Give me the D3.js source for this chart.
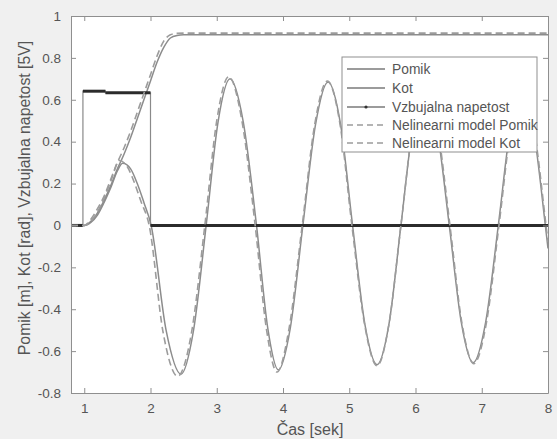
<!DOCTYPE html>
<html>
<head>
<meta charset="utf-8">
<script src="https://cdn.jsdelivr.net/npm/d3@7"></script>
<style>
  body { margin: 0; background: #f0f0f0; }
  svg { display: block; font-family: "Liberation Sans", Arial, sans-serif; }
</style>
</head>
<body>
<div id="chart"></div>
<script>
// values
var pomikT = [0.8, 1.0, 1.1, 1.2, 1.3, 1.4, 1.5, 1.6, 1.7, 1.8, 1.9, 2.0, 2.1, 2.2, 2.3, 2.4, 2.5, 8.0];
var pomikV = [0, 0, 0.02, 0.06, 0.12, 0.19, 0.27, 0.34, 0.42, 0.51, 0.60, 0.69, 0.78, 0.85, 0.895, 0.907, 0.91, 0.91];

var nlPomikT = [0.8, 1.0, 1.1, 1.2, 1.3, 1.4, 1.5, 1.6, 1.7, 1.8, 1.9, 2.0, 2.1, 2.2, 2.3, 2.4, 2.5, 8.0];
var nlPomikV = [0, 0, 0.03, 0.08, 0.14, 0.22, 0.30, 0.37, 0.45, 0.54, 0.63, 0.72, 0.81, 0.88, 0.91, 0.917, 0.918, 0.918];

var kotT = [0.8, 1.0, 1.1, 1.2, 1.3, 1.4, 1.5, 1.58, 1.7, 1.8, 1.9, 2.01, 2.235, 2.46, 2.65, 2.84,
  3.02, 3.20, 3.40, 3.60, 3.77, 3.93, 4.11, 4.30, 4.49, 4.68, 4.87, 5.05, 5.235, 5.42, 5.60, 5.78,
  5.96, 6.14, 6.32, 6.51, 6.69, 6.87, 7.06, 7.25, 7.43, 7.61, 7.78, 7.96, 8.0];
var kotV = [0, 0, 0.015, 0.05, 0.11, 0.18, 0.26, 0.297, 0.27, 0.20, 0.11, 0, -0.50, -0.71, -0.50, 0,
  0.495, 0.70, 0.495, 0, -0.49, -0.69, -0.49, 0, 0.48, 0.685, 0.48, 0, -0.47, -0.665, -0.47, 0,
  0.47, 0.665, 0.47, 0, -0.46, -0.655, -0.46, 0, 0.46, 0.655, 0.46, 0, -0.11];

var nlKotT = [0.8, 1.0, 1.1, 1.2, 1.3, 1.4, 1.53, 1.65, 1.75, 1.85, 1.98, 2.19, 2.41, 2.62, 2.82,
  3.0, 3.18, 3.38, 3.58, 3.75, 3.91, 4.09, 4.29, 4.48, 4.67, 4.86, 5.04, 5.23, 5.42, 5.60, 5.78,
  5.96, 6.14, 6.33, 6.52, 6.70, 6.88, 7.07, 7.26, 7.44, 7.62, 7.79, 7.97, 8.0];
var nlKotV = [0, 0, 0.02, 0.065, 0.13, 0.21, 0.31, 0.28, 0.21, 0.12, 0, -0.51, -0.72, -0.51, 0,
  0.50, 0.71, 0.50, 0, -0.495, -0.70, -0.495, 0, 0.485, 0.69, 0.485, 0, -0.47, -0.67, -0.47, 0,
  0.47, 0.665, 0.47, 0, -0.465, -0.66, -0.465, 0, 0.46, 0.655, 0.46, 0, -0.08];

var napetostT = [0.8, 0.98, 0.98, 1.32, 1.32, 2.0, 2.0, 8.0];
var napetostV = [0, 0, 0.641, 0.641, 0.633, 0.633, 0, 0];

var xTicks = [1, 2, 3, 4, 5, 6, 7, 8];
var yTicks = [-0.8, -0.6, -0.4, -0.2, 0, 0.2, 0.4, 0.6, 0.8, 1];
var legendLabels = ["Pomik", "Kot", "Vzbujalna napetost", "Nelinearni model Pomik", "Nelinearni model Kot"];

var width = 557, height = 439;
var plotL = 71, plotR = 548, plotT = 16, plotB = 393;

var svg = d3.select("#chart").append("svg")
    .attr("width", width)
    .attr("height", height);

svg.append("rect").attr("width", width).attr("height", height).attr("fill", "#f0f0f0");

var x = d3.scaleLinear().domain([0.8, 8]).range([plotL, plotR]);
var y = d3.scaleLinear().domain([-0.8, 1]).range([plotB, plotT]);

svg.append("rect")
    .attr("x", plotL).attr("y", plotT)
    .attr("width", plotR - plotL).attr("height", plotB - plotT)
    .attr("fill", "#fff");

function zip(ts, vs) {
    return ts.map(function(t, i) { return [t, vs[i]]; });
}

var smooth = d3.line()
    .x(function(d) { return x(d[0]); })
    .y(function(d) { return y(d[1]); })
    .curve(d3.curveMonotoneX);
var straight = d3.line()
    .x(function(d) { return x(d[0]); })
    .y(function(d) { return y(d[1]); });

svg.append("clipPath").attr("id", "clip")
    .append("rect").attr("x", plotL).attr("y", plotT).attr("width", plotR - plotL).attr("height", plotB - plotT);
var g = svg.append("g").attr("clip-path", "url(#clip)");

// solid responses
g.append("path").datum(zip(pomikT, pomikV))
    .attr("d", smooth).attr("fill", "none").attr("stroke", "#8c8c8c").attr("stroke-width", 1.5);
g.append("path").datum(zip(kotT, kotV))
    .attr("d", smooth).attr("fill", "none").attr("stroke", "#8c8c8c").attr("stroke-width", 1.5);

// excitation voltage: thin line, dense markers on the flat parts
var nap = zip(napetostT, napetostV);
g.append("path").datum(nap)
    .attr("d", straight).attr("fill", "none").attr("stroke", "#8a8a8a").attr("stroke-width", 1.2);
for (var i = 0; i < nap.length - 1; i++) {
    if (nap[i][1] === nap[i + 1][1] && nap[i][0] !== nap[i + 1][0]) {
        g.append("line")
            .attr("x1", x(nap[i][0])).attr("x2", x(nap[i + 1][0]))
            .attr("y1", y(nap[i][1])).attr("y2", y(nap[i + 1][1]))
            .attr("stroke", "#2b2b2b").attr("stroke-width", 3);
    }
}

// nonlinear model (dashed)
g.append("path").datum(zip(nlPomikT, nlPomikV))
    .attr("d", smooth).attr("fill", "none").attr("stroke", "#9c9c9c").attr("stroke-width", 1.6)
    .attr("stroke-dasharray", "7,4");
g.append("path").datum(zip(nlKotT, nlKotV))
    .attr("d", smooth).attr("fill", "none").attr("stroke", "#9c9c9c").attr("stroke-width", 1.6)
    .attr("stroke-dasharray", "7,4");

// axes box with inward ticks on all sides
var axisColor = "#8f8f8f";
var tickLen = 5;
var xb = svg.append("g").attr("transform", "translate(0," + plotB + ")")
    .call(d3.axisBottom(x).tickValues(xTicks).tickSizeInner(-tickLen).tickSizeOuter(0).tickPadding(10));
var xt = svg.append("g").attr("transform", "translate(0," + plotT + ")")
    .call(d3.axisTop(x).tickValues(xTicks).tickSizeInner(-tickLen).tickSizeOuter(0).tickFormat(""));
var yl = svg.append("g").attr("transform", "translate(" + plotL + ",0)")
    .call(d3.axisLeft(y).tickValues(yTicks).tickSizeInner(-tickLen).tickSizeOuter(0).tickPadding(10)
        .tickFormat(function(d) { return String(+d.toFixed(1)); }));
var yr = svg.append("g").attr("transform", "translate(" + plotR + ",0)")
    .call(d3.axisRight(y).tickValues(yTicks).tickSizeInner(-tickLen).tickSizeOuter(0).tickFormat(""));

[xb, xt, yl, yr].forEach(function(a) {
    a.select(".domain").attr("stroke", axisColor);
    a.selectAll(".tick line").attr("stroke", axisColor);
    a.selectAll(".tick text").attr("fill", "#555").attr("font-size", 13.5)
        .attr("font-family", "Liberation Sans, Arial, sans-serif");
});

svg.append("text")
    .attr("x", 310).attr("y", 435)
    .attr("text-anchor", "middle").attr("font-size", 16).attr("fill", "#555")
    .text("Čas [sek]");

svg.append("text")
    .attr("transform", "translate(30,198) rotate(-90)")
    .attr("text-anchor", "middle").attr("font-size", 15.8).attr("fill", "#555")
    .text("Pomik [m], Kot [rad], Vzbujalna napetost [5V]");

// legend
var lg = svg.append("g").attr("transform", "translate(342,57)");
lg.append("rect").attr("width", 195).attr("height", 95)
    .attr("fill", "#fff").attr("stroke", "#8f8f8f").attr("stroke-width", 1);
var rowY = [12, 31, 50, 68, 86];
legendLabels.forEach(function(lab, i) {
    var ln = lg.append("line")
        .attr("x1", 5).attr("x2", 43).attr("y1", rowY[i]).attr("y2", rowY[i])
        .attr("stroke", i < 3 ? "#7a7a7a" : "#9c9c9c").attr("stroke-width", 1.3);
    if (i >= 3) ln.attr("stroke-dasharray", "6,4");
    if (i === 2) {
        lg.append("circle").attr("cx", 24).attr("cy", rowY[i]).attr("r", 1.6).attr("fill", "#333");
    }
    lg.append("text").attr("x", 50).attr("y", rowY[i]).attr("dy", "0.35em")
        .attr("font-size", 13.8).attr("fill", "#555").text(lab);
});
</script>
</body>
</html>
